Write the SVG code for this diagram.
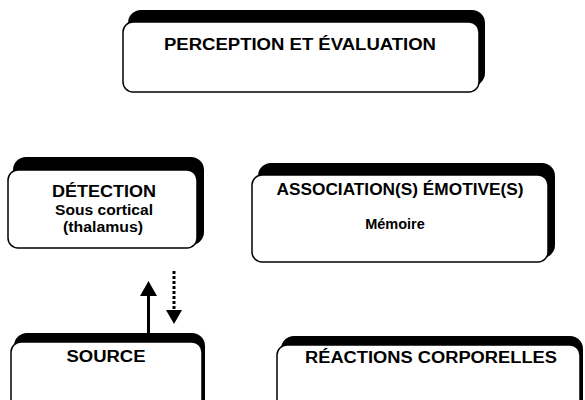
<svg xmlns="http://www.w3.org/2000/svg" width="585" height="400" viewBox="0 0 585 400">
<style>
.sh{fill:#000}
.bx{fill:#fff;stroke:#000;stroke-width:1.5}
.t{font-family:"Liberation Sans",Arial,sans-serif;font-weight:bold;fill:#000;text-anchor:middle}
.h{font-size:16px}
.s{font-size:14.5px}
</style>
<rect width="585" height="400" fill="#fff"/>
<g id="perception">
<rect class="sh" x="128" y="10" width="357" height="76" rx="13"/>
<rect class="bx" x="123" y="22" width="356" height="70" rx="10"/>
<text class="t h" x="300" y="50" textLength="272" lengthAdjust="spacingAndGlyphs">PERCEPTION ET ÉVALUATION</text>
</g>
<g id="detection">
<rect class="sh" x="13" y="157" width="191" height="88" rx="13"/>
<rect class="bx" x="8" y="170" width="189" height="78" rx="10"/>
<text class="t h" x="104" y="197" textLength="104" lengthAdjust="spacingAndGlyphs">DÉTECTION</text>
<text class="t s" x="104" y="215" textLength="98" lengthAdjust="spacingAndGlyphs">Sous cortical</text>
<text class="t s" x="103" y="232" textLength="80" lengthAdjust="spacingAndGlyphs">(thalamus)</text>
</g>
<g id="association">
<rect class="sh" x="258" y="163" width="297" height="95" rx="13"/>
<rect class="bx" x="252" y="175" width="296" height="87" rx="10"/>
<text class="t h" x="400" y="195" textLength="247" lengthAdjust="spacingAndGlyphs">ASSOCIATION(S) ÉMOTIVE(S)</text>
<text class="t s" x="395" y="229">Mémoire</text>
</g>
<g id="source">
<rect class="sh" x="14" y="333" width="191" height="80" rx="13"/>
<rect class="bx" x="11" y="342" width="191" height="72" rx="10"/>
<text class="t h" x="106" y="362" textLength="79" lengthAdjust="spacingAndGlyphs">SOURCE</text>
</g>
<g id="reactions">
<rect class="sh" x="281" y="336" width="302" height="80" rx="13"/>
<rect class="bx" x="277" y="345" width="303" height="72" rx="10"/>
<text class="t h" x="431" y="363" textLength="252" lengthAdjust="spacingAndGlyphs">RÉACTIONS CORPORELLES</text>
</g>
<g id="connectors">
<line x1="148.5" y1="333" x2="148.5" y2="294" stroke="#000" stroke-width="3"/>
<polygon points="148.5,281 140,296 157,296" fill="#000"/>
<line x1="174" y1="271" x2="174" y2="310" stroke="#000" stroke-width="3" stroke-dasharray="3,2"/>
<polygon points="166,310 182,310 174,324" fill="#000"/>
</g>
</svg>
